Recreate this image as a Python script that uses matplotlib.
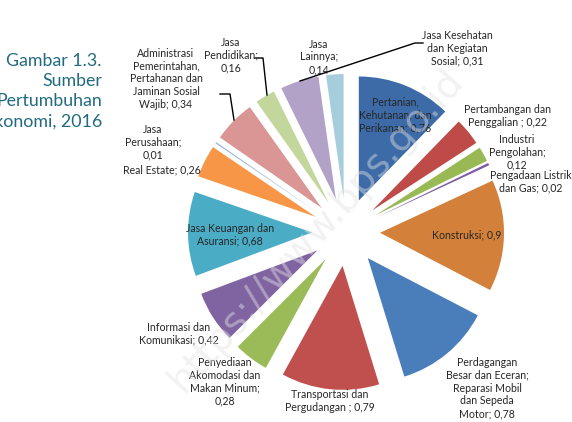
import matplotlib.pyplot as plt

# data (Sumber Pertumbuhan Ekonomi 2016)
sectors = ["Pertanian,\nKehutanan, dan\nPerikanan", "Pertambangan dan\nPenggalian ", "Industri\nPengolahan",
           "Pengadaan Listrik\ndan Gas", "Konstruksi", "Perdagangan\nBesar dan Eceran;\nReparasi Mobil\ndan Sepeda\nMotor",
           "Transportasi dan\nPergudangan ", "Penyediaan\nAkomodasi dan\nMakan Minum", "Informasi dan\nKomunikasi",
           "Jasa Keuangan dan\nAsuransi", "Real Estate", "Jasa\nPerusahaan",
           "Administrasi\nPemerintahan,\nPertahanan dan\nJaminan Sosial\nWajib", "Jasa\nPendidikan",
           "Jasa Kesehatan\ndan Kegiatan\nSosial", "Jasa\nLainnya"]
values = [0.76, 0.22, 0.12, 0.02, 0.9, 0.78, 0.79, 0.28, 0.42, 0.68, 0.26, 0.01, 0.34, 0.16, 0.31, 0.14]
value_text = ["0,76", "0,22", "0,12", "0,02", "0,9", "0,78", "0,79", "0,28", "0,42", "0,68", "0,26", "0,01",
              "0,34", "0,16", "0,31", "0,14"]
# how the label text is broken (value on same line or next line)
value_newline = [False, False, True, False, False, False, False, True, False, False, False, True,
                 False, True, False, True]

colors = ["#3D6BA8", "#BE4B48", "#98B954", "#7D5FA0", "#D2803A", "#4A7EBB", "#C0504D", "#9BBB59",
          "#8064A2", "#4BACC6", "#F79646", "#95B3D7", "#D99694", "#C3D69B", "#B3A2C7", "#A5CDDB"]

# label centres in pixels (top-left origin)
label_pos = [(395, 115), (507, 116), (517, 152), (531, 182), (467, 235), (487, 388),
             (330, 401), (225, 382), (179, 334), (230, 235), (162, 170), (153, 142),
             (166, 79), (231, 55), (457, 48), (319, 57)]

W, H = 572, 422
fig = plt.figure(figsize=(5.72, 4.22), dpi=100)
ax = fig.add_axes([0, 0, 1, 1])

def Y(y):
    return H - y

# exploded pie (explode is in data units = pixels here)
ax.pie(values, colors=colors, startangle=90, counterclock=False, center=(346, Y(232)), radius=124,
       explode=[34] * len(values), wedgeprops=dict(linewidth=0), frame=True)
ax.set_xlim(0, W)
ax.set_ylim(0, H)
ax.axis("off")

# labels
for name, vt, nl, (x, y) in zip(sectors, value_text, value_newline, label_pos):
    txt = name + (";\n" if nl else "; ") + vt
    ax.text(x, Y(y), txt, ha="center", va="center", fontsize=7.6, family="Lato",
            color="#262626", linespacing=1.2)

# leader lines
ax.plot([300, 415, 423], [Y(81), Y(43), Y(43)], color="black", lw=1)
ax.plot([255, 263, 267], [Y(58), Y(58), Y(95)], color="black", lw=1)
ax.plot([220, 230, 234], [Y(94), Y(94), Y(120)], color="black", lw=1)

# caption on the left (clipped by the figure edge, as in the source)
ax.text(102, Y(91), "Gambar 1.3.\nSumber\nPertumbuhan\nEkonomi, 2016", ha="right", va="center",
        fontsize=12.8, family="Lato", color="#216A80", linespacing=1.33)

# watermark
ax.text(316, Y(230), "https://www.bps.go.id", ha="center", va="center", rotation=48,
        fontsize=28, color="#E3E3E3", alpha=0.45, family="DejaVu Sans")

plt.savefig("out.png", dpi=100)
